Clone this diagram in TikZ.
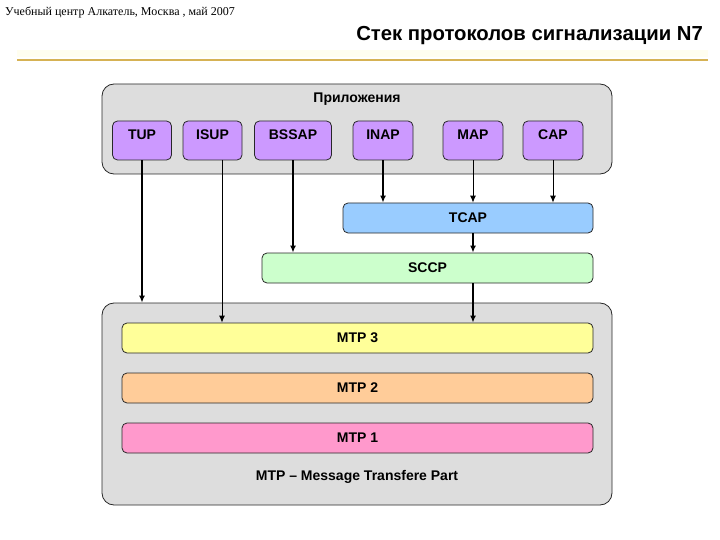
\documentclass[tikz,border=0pt]{standalone}
\usepackage{fontspec}
\setmainfont{Liberation Sans}
\newfontfamily\serifhdr{Liberation Serif}
\usetikzlibrary{arrows.meta}
\definecolor{appfill}{RGB}{204,153,255}
\definecolor{grayfill}{RGB}{221,221,221}
\definecolor{tcapfill}{RGB}{153,204,255}
\definecolor{sccpfill}{RGB}{204,255,204}
\definecolor{mtpthree}{RGB}{255,255,153}
\definecolor{mtptwo}{RGB}{255,204,153}
\definecolor{mtpone}{RGB}{255,153,204}
\definecolor{goldline}{RGB}{214,178,84}
\definecolor{edgecol}{RGB}{40,40,40}
\tikzset{
  container/.style={draw=edgecol, line width=0.8pt, fill=grayfill, rounded corners=12pt, inner sep=0pt},
  appbox/.style={draw=edgecol, line width=0.8pt, fill=appfill, rounded corners=5pt, minimum height=39pt, inner sep=0pt, text height=10pt, text depth=12pt, font=\bfseries\fontsize{14}{16}\selectfont},
  layer/.style={draw=edgecol, line width=0.8pt, rounded corners=5pt, minimum height=30pt, inner sep=0pt, font=\bfseries\fontsize{14}{16}\selectfont},
  lbl/.style={inner sep=0pt, font=\bfseries\fontsize{14}{16}\selectfont},
  thickarr/.style={line width=2pt, -{Latex[length=7pt,width=6pt]}},
  thinarr/.style={line width=0.9pt, -{Latex[length=7pt,width=6pt]}},
}
\begin{document}
\begin{tikzpicture}[x=1pt,y=-1pt]
\useasboundingbox (0,0) rectangle (720,540);
% header
\node[anchor=west, inner sep=0pt, font=\serifhdr\fontsize{12}{13}\selectfont] (hdr) at (5,12) {Учебный центр Алкатель, Москва , май 2007};
\node[anchor=east, inner sep=0pt, font=\bfseries\fontsize{20.3}{22}\selectfont] (title) at (703,36) {Стек протоколов сигнализации N7};
\fill[yellow!6] (17,50) rectangle (708,57);
\draw[goldline, line width=2.5pt] (17,60) -- (708,60);
% containers
\node[container, minimum width=510pt, minimum height=90pt] (apps) at (357,129) {};
\node[lbl] (appslbl) at (357,99) {Приложения};
\node[container, minimum width=510pt, minimum height=202pt] (mtp) at (357,404) {};
% application boxes
\node[appbox, minimum width=59pt] (tup) at (142,140.5) {TUP};
\node[appbox, minimum width=59pt] (isup) at (212.5,140.5) {ISUP};
\node[appbox, minimum width=77pt] (bssap) at (293,140.5) {BSSAP};
\node[appbox, minimum width=60pt] (inap) at (383,140.5) {INAP};
\node[appbox, minimum width=60pt] (map) at (473,140.5) {MAP};
\node[appbox, minimum width=60pt] (cap) at (553,140.5) {CAP};
% layers
\node[layer, fill=tcapfill, minimum width=250pt] (tcap) at (468,218) {TCAP};
\node[layer, fill=sccpfill, minimum width=331pt] (sccp) at (427.5,268) {SCCP};
\node[layer, fill=mtpthree, minimum width=471pt] (mtp3) at (357.5,338) {MTP 3};
\node[layer, fill=mtptwo, minimum width=471pt] (mtp2) at (357.5,388) {MTP 2};
\node[layer, fill=mtpone, minimum width=471pt] (mtp1) at (357.5,438) {MTP 1};
\node[lbl] (mtplbl) at (357,477) {MTP – Message Transfere Part};
% connectors
\coordinate (isupx) at (222,160);
\draw[thickarr] (tup.south) -- (tup.south |- mtp.north);
\draw[thinarr] (isupx) -- (isupx |- mtp3.north);
\draw[thickarr] (bssap.south) -- (bssap.south |- sccp.north);
\draw[thickarr] (inap.south) -- (inap.south |- tcap.north);
\draw[thinarr] (map.south) -- (map.south |- tcap.north);
\draw[thinarr] (cap.south) -- (cap.south |- tcap.north);
\draw[thickarr] (map.south |- tcap.south) -- (map.south |- sccp.north);
\draw[thickarr] (map.south |- sccp.south) -- (map.south |- mtp3.north);
\end{tikzpicture}
\end{document}
